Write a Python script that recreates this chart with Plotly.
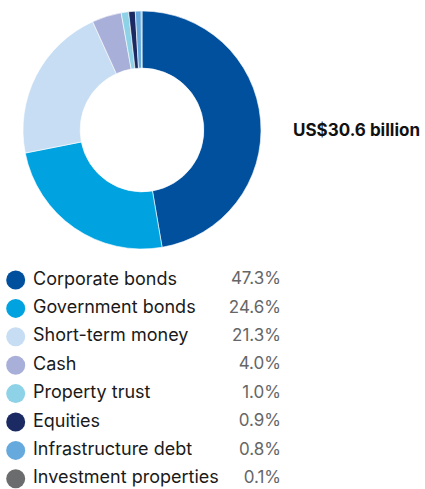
import plotly.graph_objects as go

# Portfolio allocation
categories = [
    "Corporate bonds",
    "Government bonds",
    "Short-term money",
    "Cash",
    "Property trust",
    "Equities",
    "Infrastructure debt",
    "Investment properties",
]
shares = [47.3, 24.6, 21.3, 4.0, 1.0, 0.9, 0.8, 0.1]
colors = [
    "#00509E",
    "#00A3E0",
    "#C6DDF3",
    "#A8AFD9",
    "#8DD2E7",
    "#1B2A63",
    "#66A9DD",
    "#6B6C6E",
]
total_label = "US$30.6 billion"

W, H = 425, 489
FONT = "Inter"

# donut geometry (pixels)
cx, cy, r = 142, 130, 119

fig = go.Figure()

fig.add_trace(go.Pie(
    labels=categories,
    values=shares,
    sort=False,
    direction="clockwise",
    rotation=0,
    hole=0.52,
    textinfo="none",
    hoverinfo="label+percent",
    marker=dict(colors=colors, line=dict(color="white", width=0.6)),
    domain=dict(x=[(cx - r) / W, (cx + r) / W],
                y=[(H - cy - r) / H, (H - cy + r) / H]),
    showlegend=False,
))

# legend rows laid out by index
rows = list(range(len(categories)))
row0, step = 280.0, 28.4

fig.add_trace(go.Scatter(
    x=[15.7] * len(rows), y=rows, mode="markers",
    marker=dict(size=19, color=colors, line=dict(width=0)),
    xaxis="x2", yaxis="y2", hoverinfo="skip", showlegend=False,
))
fig.add_trace(go.Scatter(
    x=[33] * len(rows), y=rows, mode="text",
    text=categories, textposition="middle right",
    textfont=dict(family=FONT, size=18, color="#1a1a1a"),
    xaxis="x2", yaxis="y2", hoverinfo="skip", showlegend=False,
))
fig.add_trace(go.Scatter(
    x=[281] * len(rows), y=rows, mode="text",
    text=[f"{v:.1f}%" for v in shares], textposition="middle left",
    textfont=dict(family=FONT, size=17, color="#666666"),
    xaxis="x2", yaxis="y2", hoverinfo="skip", showlegend=False,
))

fig.add_annotation(
    x=291, y=(cy - row0) / step, xref="x2", yref="y2",
    text=f"<b>{total_label}</b>", showarrow=False,
    xanchor="left", yanchor="middle",
    font=dict(family=FONT, size=17, color="#111111"),
)

fig.update_layout(
    width=W, height=H,
    margin=dict(l=0, r=0, t=0, b=0),
    paper_bgcolor="white", plot_bgcolor="rgba(0,0,0,0)",
    xaxis2=dict(domain=[0, 1], range=[0, W], visible=False, fixedrange=True),
    yaxis2=dict(domain=[0, 1], range=[(H - row0) / step, (0 - row0) / step],
                visible=False, fixedrange=True, anchor="x2"),
    xaxis=dict(visible=False), yaxis=dict(visible=False),
)

fig.write_html("out.html")
